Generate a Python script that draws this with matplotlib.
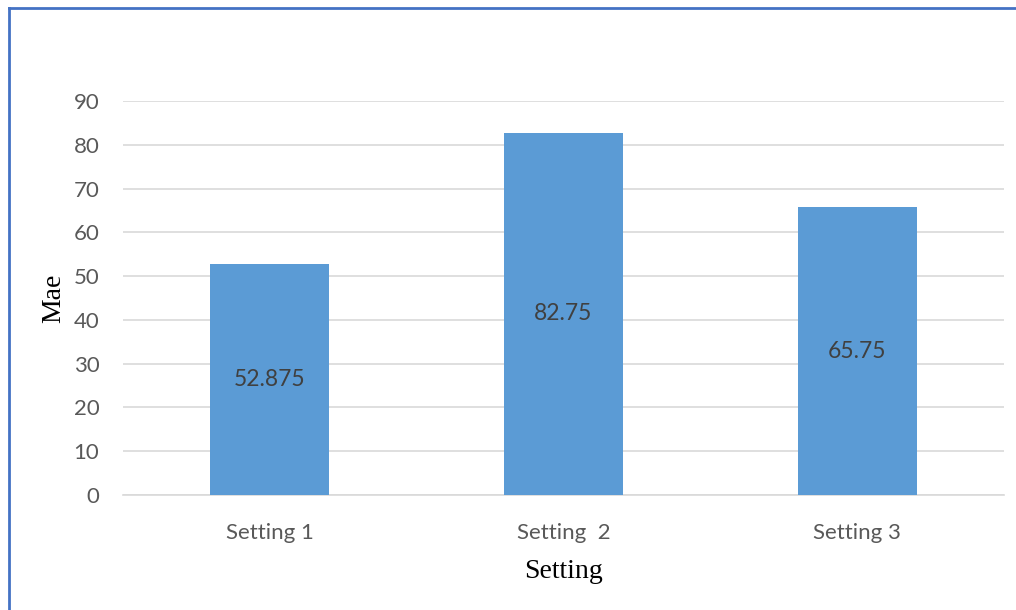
import matplotlib
matplotlib.use("Agg")
import matplotlib.pyplot as plt
from matplotlib.lines import Line2D

categories = ["Setting 1", "Setting  2", "Setting 3"]
values = [52.875, 82.75, 65.75]
value_labels = ["52.875", "82.75", "65.75"]
yticks = [0, 10, 20, 30, 40, 50, 60, 70, 80, 90]

fig = plt.figure(figsize=(10.16, 6.10), dpi=100)
ax = fig.add_axes([123/1016, 1-495/610, (1004-123)/1016, (495-101)/610])

x = range(len(categories))
bars = ax.bar(x, values, width=0.405, color="#5B9BD5", zorder=3)
for xi, v, lab in zip(x, values, value_labels):
    ax.text(xi, v/2, lab, ha="center", va="center", fontsize=16.5,
            color="#404040", family="Lato", zorder=4)

ax.set_xlim(-0.5, len(categories)-0.5)
ax.set_ylim(0, 90)
ax.set_yticks(yticks)
ax.set_xticks(list(x))
ax.set_xticklabels(categories)
ax.grid(axis="y", color="#d9d9d9", linewidth=1.2, zorder=0)
for s in ["top", "right", "left"]:
    ax.spines[s].set_visible(False)
ax.spines["bottom"].set_color("#d9d9d9")
ax.spines["bottom"].set_linewidth(1.2)
ax.tick_params(axis="both", length=0, labelsize=16, labelcolor="#595959")
ax.tick_params(axis="y", pad=17)
ax.tick_params(axis="x", pad=20)
for t in ax.get_xticklabels() + ax.get_yticklabels():
    t.set_family("Lato")

ax.set_xlabel("Setting", family="Liberation Serif", fontsize=20, labelpad=12)
ax.set_ylabel("Mae", family="Liberation Serif", fontsize=20, labelpad=5)

fig.add_artist(Line2D([9/1016, 9/1016], [0, 1-8/610], transform=fig.transFigure,
                      color="#4472C4", linewidth=2))
fig.add_artist(Line2D([9/1016, 1], [1-8/610, 1-8/610], transform=fig.transFigure,
                      color="#4472C4", linewidth=2))

fig.savefig("out.png", dpi=100)
